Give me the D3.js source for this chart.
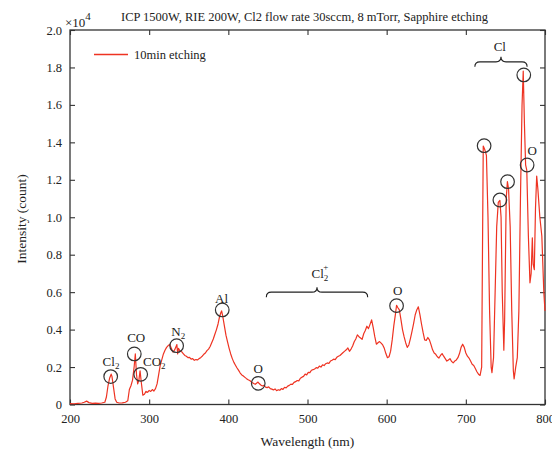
<!DOCTYPE html>
<html>
<head>
<meta charset="utf-8">
<script src="https://cdn.jsdelivr.net/npm/d3@7"></script>
<style>
  body { margin: 0; background: #fff; }
  text { font-family: "Liberation Serif", "Times New Roman", serif; fill: #222; }
</style>
</head>
<body>
<div id="chart"></div>
<script>
// Spectrum, intensity in units of 10^4 counts
const wavelength = [
  200, 205, 210, 215, 218, 221, 224, 228, 232, 236, 240, 244,
  246, 248, 250, 252, 253, 255, 257, 259, 262, 266, 270, 273,
  275, 277, 279, 281, 282.5, 284, 285.5, 287, 288.5, 290, 292, 294, 296, 298, 300, 302, 304, 306, 308,
  310, 312, 314, 316, 318, 320, 322, 324, 326, 328, 330, 332, 334, 335, 336,
  337, 339, 341, 343, 345, 347, 349, 351, 353, 355, 357, 359, 361, 363, 365, 367, 369, 371, 373, 375,
  377, 379, 381, 383, 385, 387, 389, 390.5, 391.5, 393,
  395, 397, 399, 401, 403, 405, 407, 409, 411, 413, 415, 417, 419, 421, 423, 425, 427,
  430, 432, 434, 436, 437.5, 439, 441, 443, 445, 447, 449, 451, 453, 455, 457, 459, 461, 463, 465, 467,
  469, 471, 473, 475, 477, 479, 481, 483, 485, 487, 489, 491, 493, 495, 497, 499, 501, 503, 505, 507,
  509, 511, 513, 515, 517, 519, 521, 523, 525, 527, 529, 531, 533, 535, 537, 539, 541, 543, 545, 547,
  549, 551, 553, 555, 557, 559, 561, 563, 565, 567, 569, 571, 573, 575, 577, 579, 581, 583, 585, 587,
  589, 591, 593, 595, 597, 599, 601, 603, 605, 607, 609, 611, 612.5, 614, 616, 618, 620, 622, 624, 626,
  628, 630, 632, 634, 636, 638, 640, 642, 644, 646, 648, 650, 652, 654, 656, 658, 660, 662, 664, 666,
  668, 670, 672, 674, 676, 678, 680, 682, 684, 686, 688, 690, 692, 694, 696, 698, 700, 702, 704, 706,
  708, 710, 712, 714, 716, 718,
  720, 721, 722, 724, 726, 728, 730, 732, 733, 735, 737,
  739, 741, 743, 744.5, 746, 748, 749, 751, 752.5, 754, 756, 758, 760, 761, 763, 765, 767, 769, 771, 772.5,
  774, 775.5, 777, 779, 781, 782.5, 784, 785, 786.5, 788, 789.5, 791, 793.5, 796, 798.5, 800
]
const intensity = [
  0.005, 0.004, 0.006, 0.008, 0.012, 0.018, 0.010, 0.006, 0.007, 0.006, 0.008, 0.012,
  0.04, 0.10, 0.14, 0.162, 0.15, 0.09, 0.03, 0.012, 0.008, 0.009, 0.012, 0.02,
  0.08, 0.10, 0.13, 0.20, 0.27, 0.16, 0.11, 0.13, 0.18, 0.12, 0.05, 0.055, 0.07, 0.065, 0.075, 0.07, 0.08, 0.072, 0.085,
  0.11, 0.16, 0.21, 0.24, 0.27, 0.29, 0.305, 0.315, 0.32, 0.30, 0.28, 0.29, 0.31, 0.32, 0.27,
  0.30, 0.285, 0.282, 0.272, 0.262, 0.258, 0.250, 0.252, 0.242, 0.245, 0.236, 0.240, 0.238, 0.245, 0.250, 0.258, 0.268, 0.275, 0.288, 0.296,
  0.31, 0.33, 0.35, 0.375, 0.40, 0.43, 0.47, 0.49, 0.50, 0.47,
  0.42, 0.37, 0.335, 0.30, 0.27, 0.245, 0.225, 0.21, 0.195, 0.182, 0.168, 0.158, 0.152, 0.145, 0.138, 0.132, 0.128,
  0.118, 0.112, 0.108, 0.115, 0.12, 0.112, 0.104, 0.099, 0.102, 0.093, 0.090, 0.094, 0.085, 0.082, 0.078, 0.083, 0.074, 0.079, 0.076, 0.085,
  0.081, 0.092, 0.089, 0.098, 0.102, 0.109, 0.107, 0.118, 0.122, 0.128, 0.126, 0.140, 0.146, 0.150, 0.162, 0.158, 0.172, 0.170, 0.183, 0.186,
  0.190, 0.197, 0.194, 0.205, 0.200, 0.212, 0.208, 0.218, 0.222, 0.219, 0.232, 0.236, 0.242, 0.240, 0.252, 0.258, 0.262, 0.270, 0.278, 0.285,
  0.292, 0.302, 0.284, 0.296, 0.312, 0.335, 0.350, 0.372, 0.362, 0.355, 0.348, 0.378, 0.395, 0.418, 0.405, 0.428, 0.452, 0.410, 0.362, 0.322,
  0.330, 0.336, 0.328, 0.318, 0.300, 0.272, 0.250, 0.255, 0.285, 0.345, 0.420, 0.480, 0.530, 0.518, 0.505, 0.455, 0.400, 0.362, 0.330, 0.305,
  0.318, 0.352, 0.390, 0.432, 0.478, 0.505, 0.522, 0.480, 0.430, 0.385, 0.345, 0.342, 0.358, 0.345, 0.320, 0.292, 0.275, 0.268, 0.255, 0.248,
  0.262, 0.272, 0.258, 0.245, 0.232, 0.238, 0.245, 0.230, 0.222, 0.232, 0.238, 0.250, 0.272, 0.305, 0.322, 0.305, 0.275, 0.258, 0.248, 0.232,
  0.215, 0.208, 0.192, 0.175, 0.162, 0.155,
  0.20, 0.8, 1.38, 1.36, 1.33, 1.0, 0.5, 0.2, 0.17, 0.25, 0.6,
  0.95, 1.08, 1.09, 1.0, 0.6, 0.29, 0.45, 1.1, 1.19, 1.15, 0.95, 0.5, 0.18, 0.137, 0.2, 0.25, 0.5, 1.1, 1.6, 1.78,
  1.5, 1.28, 1.25, 0.9, 0.65, 0.7, 0.89, 0.75, 0.72, 1.05, 1.22, 1.15, 1.0, 0.9, 0.6, 0.5
]

const xTicks = [200, 300, 400, 500, 600, 700, 800]
const yTicks = [0, 0.2, 0.4, 0.6, 0.8, 1.0, 1.2, 1.4, 1.6, 1.8, 2.0]

// Circled peaks
const peakX = [251.4, 281.2, 289.3, 334.7, 392.3, 437.8, 612.5, 723.1, 743, 752.7, 773.2, 777.4]
const peakY = [0.149, 0.27, 0.161, 0.314, 0.505, 0.113, 0.528, 1.382, 1.092, 1.19, 1.76, 1.279]

// Species labels (position = text baseline)
const labelText = ['Cl', 'CO', 'CO', 'N', 'Al', 'O', 'O', 'Cl', 'Cl', 'O']
const labelSub  = ['2', '', '2', '2', '', '', '', '2', '', '']
const labelSup  = ['', '', '', '', '', '', '', '+', '', '']
const labelX = [251.8, 283.6, 292.2, 336.7, 391.5, 437.8, 613.8, 515.7, 742.9, 783.7]
const labelY = [0.203, 0.335, 0.205, 0.366, 0.543, 0.169, 0.587, 0.677, 1.887, 1.331]
const labelAnchor = ['middle', 'middle', 'start', 'middle', 'middle', 'middle', 'middle', 'middle', 'middle', 'middle']

// Braces
const braceX1 = [448, 711.4]
const braceX2 = [576, 777.4]
const braceY = [0.60, 1.83]

const width = 552
const height = 452
const margin = { top: 30, right: 7, bottom: 47.5, left: 70 }
const w = width - margin.left - margin.right
const h = height - margin.top - margin.bottom

const svg = d3.select('#chart')
  .append('svg')
    .attr('width', width)
    .attr('height', height)

const g = svg.append('g')
  .attr('transform', 'translate(' + margin.left + ',' + margin.top + ')')

const x = d3.scaleLinear().domain([200, 800]).range([0, w])
const y = d3.scaleLinear().domain([0, 2.0]).range([h, 0])

const fmt = d => d === 0 ? '0' : d3.format('.1f')(d)

const styleAxis = sel => {
  sel.select('.domain').remove()
  sel.selectAll('line').attr('stroke', '#333').attr('stroke-width', 1.1)
  sel.selectAll('text')
    .attr('font-size', 12.5)
    .attr('font-family', '"Liberation Serif", serif')
    .attr('fill', '#222')
}

g.append('g')
  .attr('transform', 'translate(0,' + h + ')')
  .call(d3.axisBottom(x).tickValues(xTicks).tickSizeInner(-5).tickSizeOuter(0).tickPadding(10))
  .call(styleAxis)

g.append('g')
  .call(d3.axisTop(x).tickValues(xTicks).tickSizeInner(-5).tickSizeOuter(0).tickFormat(''))
  .call(styleAxis)

g.append('g')
  .call(d3.axisLeft(y).tickValues(yTicks).tickSizeInner(-5).tickSizeOuter(0).tickPadding(8).tickFormat(fmt))
  .call(styleAxis)

g.append('g')
  .attr('transform', 'translate(' + w + ',0)')
  .call(d3.axisRight(y).tickValues(yTicks).tickSizeInner(-5).tickSizeOuter(0).tickFormat(''))
  .call(styleAxis)

// Frame
g.append('rect')
  .attr('width', w)
  .attr('height', h)
  .attr('fill', 'none')
  .attr('stroke', '#333')
  .attr('stroke-width', 1.3)

// Spectrum
const line = d3.line()
  .x((d, i) => x(wavelength[i]))
  .y(d => y(d))

g.append('path')
  .datum(intensity)
  .attr('d', line)
  .attr('fill', 'none')
  .attr('stroke', '#ee3322')
  .attr('stroke-width', 1.2)
  .attr('stroke-linejoin', 'round')

// Circles
g.selectAll('.peak')
  .data(peakX)
  .enter()
  .append('circle')
    .attr('class', 'peak')
    .attr('cx', d => x(d))
    .attr('cy', (d, i) => y(peakY[i]))
    .attr('r', 6.8)
    .attr('fill', 'none')
    .attr('stroke', '#333')
    .attr('stroke-width', 1.2)

// Labels
labelText.forEach((t, i) => {
  const txt = g.append('text')
    .attr('x', x(labelX[i]))
    .attr('y', y(labelY[i]))
    .attr('text-anchor', labelAnchor[i])
    .attr('font-size', 13)
    .text(t)
  if (labelSub[i]) {
    txt.append('tspan').attr('font-size', 9).attr('dy', 3).text(labelSub[i])
  }
  if (labelSup[i]) {
    txt.append('tspan').attr('font-size', 9).attr('dx', -5).attr('dy', -11).text(labelSup[i])
  }
})

// Braces
const bracePath = (x1, x2, yb) => {
  const xm = (x1 + x2) / 2
  const r = 5
  return 'M' + x1 + ',' + (yb + r) +
    ' Q' + x1 + ',' + yb + ' ' + (x1 + r) + ',' + yb +
    ' L' + (xm - r) + ',' + yb +
    ' Q' + xm + ',' + yb + ' ' + xm + ',' + (yb - r) +
    ' Q' + xm + ',' + yb + ' ' + (xm + r) + ',' + yb +
    ' L' + (x2 - r) + ',' + yb +
    ' Q' + x2 + ',' + yb + ' ' + x2 + ',' + (yb + r)
}

g.selectAll('.brace')
  .data(braceX1)
  .enter()
  .append('path')
    .attr('class', 'brace')
    .attr('d', (d, i) => bracePath(x(d), x(braceX2[i]), y(braceY[i])))
    .attr('fill', 'none')
    .attr('stroke', '#222')
    .attr('stroke-width', 1.1)

// Exponent
const expo = g.append('text')
  .attr('x', -5)
  .attr('y', -3)
  .attr('font-size', 13)
  .text('×10')
expo.append('tspan').attr('font-size', 11).attr('dy', -7).text('4')

// Title
svg.append('text')
  .attr('x', 304.5)
  .attr('y', 21)
  .attr('text-anchor', 'middle')
  .attr('font-size', 12.5)
  .text('ICP 1500W, RIE 200W, Cl2 flow rate 30sccm, 8 mTorr, Sapphire etching')

// Axis titles
svg.append('text')
  .attr('x', margin.left + w / 2)
  .attr('y', 446)
  .attr('text-anchor', 'middle')
  .attr('font-size', 13.5)
  .text('Wavelength (nm)')

svg.append('text')
  .attr('transform', 'translate(26,219) rotate(-90)')
  .attr('text-anchor', 'middle')
  .attr('font-size', 13.5)
  .text('Intensity (count)')

// Legend
const legend = g.append('g')
legend.append('line')
  .attr('x1', 24).attr('x2', 58)
  .attr('y1', 24.5).attr('y2', 24.5)
  .attr('stroke', '#ee3322')
  .attr('stroke-width', 1.4)
legend.append('text')
  .attr('x', 64)
  .attr('y', 28.5)
  .attr('font-size', 12.5)
  .text('10min etching')
</script>
</body>
</html>
